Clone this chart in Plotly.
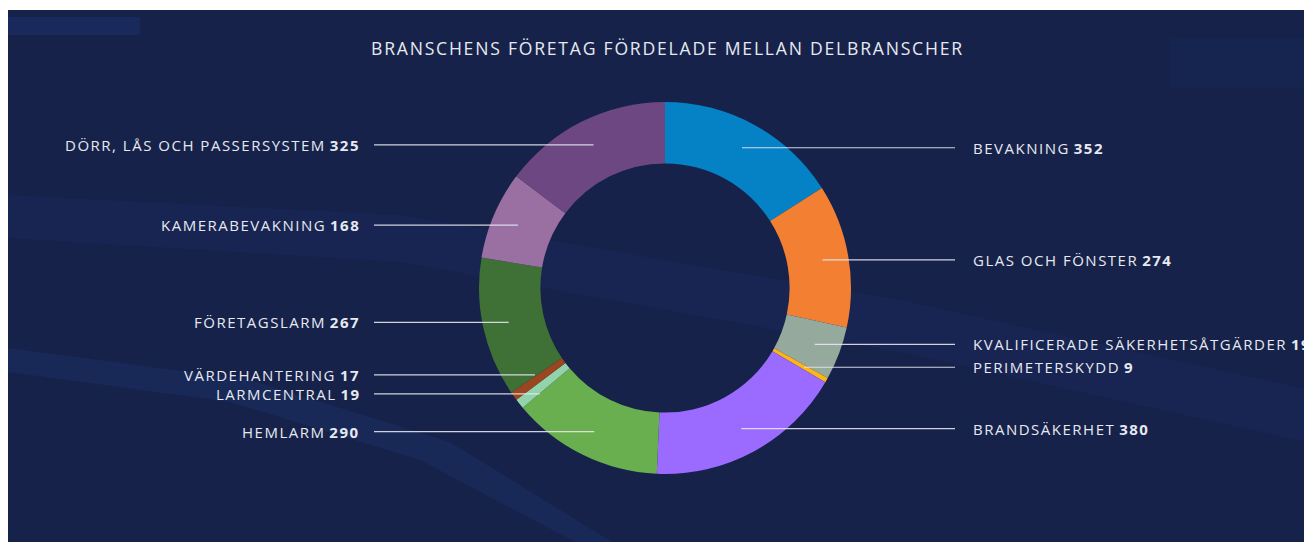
import math
import plotly.graph_objects as go

# ---------------- data ----------------
categories = [
    "BEVAKNING",
    "GLAS OCH FÖNSTER",
    "KVALIFICERADE SÄKERHETSÅTGÄRDER",
    "PERIMETERSKYDD",
    "BRANDSÄKERHET",
    "HEMLARM",
    "LARMCENTRAL",
    "VÄRDEHANTERING",
    "FÖRETAGSLARM",
    "KAMERABEVAKNING",
    "DÖRR, LÅS OCH PASSERSYSTEM",
]
values = [352, 274, 102, 9, 380, 290, 19, 17, 267, 168, 325]
value_labels = ["352", "274", "19", "9", "380", "290", "19", "17", "267", "168", "325"]
colors = [
    "#0581C6", "#F38032", "#95A99C", "#FDB614", "#9A6BFE", "#6AAF4F",
    "#93D3AB", "#9B4521", "#3F7036", "#9A6FA2", "#6D4781",
]
title_text = "BRANSCHENS FÖRETAG FÖRDELADE MELLAN DELBRANSCHER"

# ---------------- layout geometry (screen pixels; page has an 8px body margin) ----------------
OX, OY = 8, 8
W, H = 1320, 540
CX, CY, R = 665, 288, 186
HOLE = 0.67
R_ANCHOR = 160
RIGHT_LINE_END, RIGHT_TEXT_X = 955, 971
LEFT_LINE_END, LEFT_TEXT_X = 374, 361
MIN_GAP = 19

BG = "#16224A"
TEXT_COL = "#E6E9F0"
LINE_COL = "rgba(228,230,238,0.9)"
FONT = "Open Sans"
HAIR = "\u200a"


def px(x):
    return (x - OX) / W


def py(y):
    return (H - (y - OY)) / H


def spaced(s):
    return HAIR.join(s)


fig = go.Figure()
fig.add_trace(go.Pie(
    labels=categories,
    values=values,
    marker=dict(colors=colors, line=dict(width=0)),
    hole=HOLE,
    sort=False,
    direction="clockwise",
    rotation=0,
    textinfo="none",
    hoverinfo="label+value",
    showlegend=False,
    domain=dict(x=[px(CX - R), px(CX + R)], y=[py(CY + R), py(CY - R)]),
))

# ---------------- label positions derived from the values ----------------
total = sum(values)
cum = 0
mids = []
for v in values:
    mids.append((cum + v / 2) / total * 2 * math.pi)
    cum += v

items = []
for i, a in enumerate(mids):
    ax = CX + R_ANCHOR * math.sin(a)
    ay = CY - R_ANCHOR * math.cos(a)
    side = "right" if math.sin(a) >= 0 else "left"
    items.append(dict(i=i, ax=ax, y=ay, side=side))

for side in ("right", "left"):
    grp = sorted([it for it in items if it["side"] == side], key=lambda d: d["y"])
    for _ in range(50):
        moved = False
        for k in range(len(grp) - 1):
            d = grp[k + 1]["y"] - grp[k]["y"]
            if d < MIN_GAP:
                s = (MIN_GAP - d) / 2
                grp[k]["y"] -= s
                grp[k + 1]["y"] += s
                moved = True
        if not moved:
            break

shapes = [
    dict(type="rect", xref="paper", yref="paper", x0=0, x1=1, y0=py(10), y1=1,
         fillcolor="white", line=dict(width=0), layer="below"),
]


def poly(points):
    return "M " + " L ".join(f"{px(x):.5f},{py(y):.5f}" for x, y in points) + " Z"


streaks = [
    ([(8, 195), (400, 215), (900, 300), (1320, 392), (1320, 445), (900, 352), (400, 262), (8, 238)],
     "rgba(30,52,112,0.22)"),
    ([(8, 348), (250, 380), (450, 442), (625, 550), (590, 550), (420, 460), (230, 402), (8, 372)],
     "rgba(30,52,112,0.35)"),
    ([(8, 17), (140, 17), (140, 35), (8, 35)], "rgba(30,52,112,0.45)"),
    ([(1170, 38), (1320, 38), (1320, 88), (1170, 88)], "rgba(30,52,112,0.15)"),
]
for path, col in streaks:
    shapes.append(dict(type="path", xref="paper", yref="paper", path=poly(path),
                       fillcolor=col, line=dict(width=0), layer="below"))

annotations = []
for it in items:
    i = it["i"]
    y = it["y"]
    if it["side"] == "right":
        x_end, tx, anchor = RIGHT_LINE_END, RIGHT_TEXT_X, "left"
    else:
        x_end, tx, anchor = LEFT_LINE_END, LEFT_TEXT_X, "right"
    shapes.append(dict(type="line", xref="paper", yref="paper",
                       x0=px(it["ax"]), x1=px(x_end), y0=py(y), y1=py(y),
                       line=dict(color=LINE_COL, width=1.2), layer="above"))
    annotations.append(dict(
        x=px(tx), y=py(y), xref="paper", yref="paper", xanchor=anchor, yanchor="middle",
        text=f"{spaced(categories[i])}{HAIR} <b>{spaced(value_labels[i])}</b>", showarrow=False,
        font=dict(family=FONT, size=15, color=TEXT_COL),
    ))

annotations.append(dict(
    x=px(CX + 1), y=py(48), xref="paper", yref="paper", xanchor="center", yanchor="middle",
    text=spaced(title_text), showarrow=False,
    font=dict(family=FONT, size=17.6, color=TEXT_COL),
))

fig.update_layout(
    width=W, height=H,
    margin=dict(l=0, r=0, t=0, b=0),
    paper_bgcolor=BG,
    plot_bgcolor=BG,
    shapes=shapes,
    annotations=annotations,
)

fig.write_html("out.html")
